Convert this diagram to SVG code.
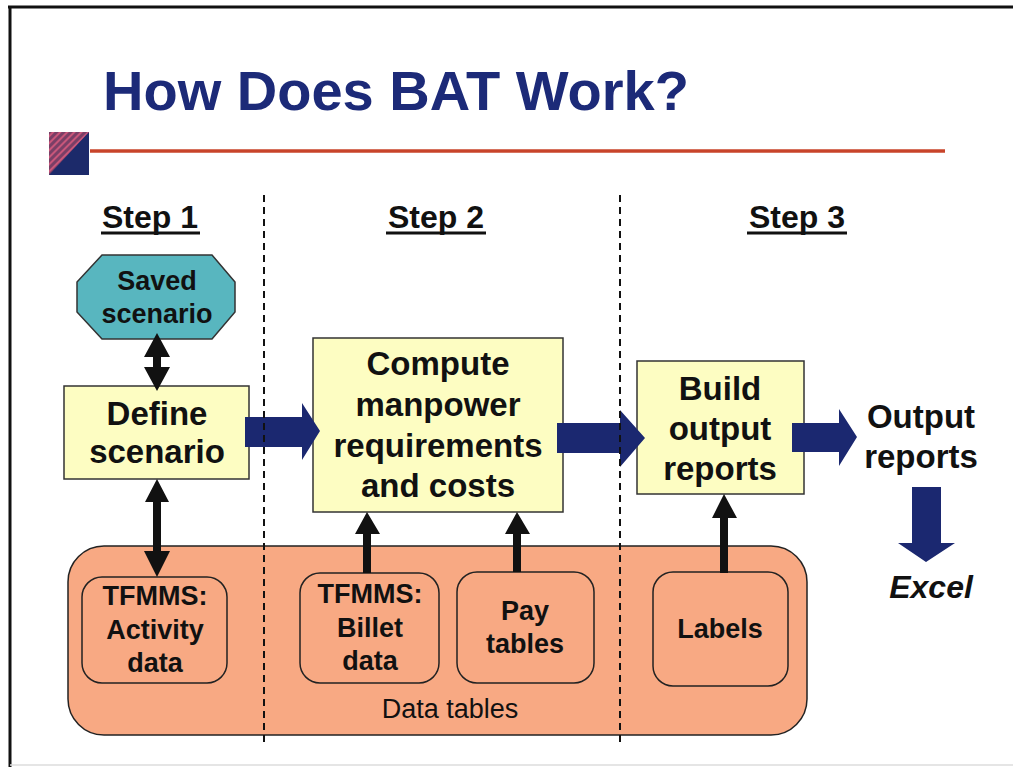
<svg xmlns="http://www.w3.org/2000/svg" width="1013" height="767" viewBox="0 0 1013 767">
<defs>
<style>
text{font-family:"Liberation Sans",Arial,sans-serif;fill:#111;text-anchor:middle}
.b{font-weight:bold}
.box{fill:#fdfdc2;stroke:#333;stroke-width:1.5}
.tbl{fill:#f8a983;stroke:#222;stroke-width:1.5}
.blue{fill:#1b2870}
.blk{fill:#111}
.dash{stroke:#111;stroke-width:2;stroke-dasharray:7 5}
.step{font-size:32px;font-weight:bold}
</style>
<pattern id="hatch" width="5" height="5" patternUnits="userSpaceOnUse" patternTransform="rotate(45)">
<rect width="5" height="5" fill="#7a3f66"/>
<rect width="2" height="5" fill="#c8567a"/>
</pattern>
</defs>
<rect width="1013" height="767" fill="#fff"/>
<!-- frame -->
<line x1="8" y1="7" x2="1013" y2="7" stroke="#111" stroke-width="3"/>
<line x1="10" y1="6" x2="10" y2="767" stroke="#111" stroke-width="3"/>
<line x1="10" y1="765" x2="1013" y2="765" stroke="#ddd" stroke-width="1.5"/>
<!-- title -->
<g id="title">
<text x="103" y="110" class="b" style="font-size:56px;fill:#1c2a78;text-anchor:start">How Does BAT Work?</text>
<rect x="49" y="132" width="40" height="43" fill="url(#hatch)"/>
<polygon points="89,132 89,175 49,175" fill="#1c2a6a"/>
<line x1="90" y1="151" x2="945" y2="151" stroke="#c8442a" stroke-width="3.5"/>
</g>
<!-- step headers -->
<g id="steps">
<text x="150" y="228" class="step">Step 1</text>
<line x1="101" y1="233" x2="200" y2="233" stroke="#111" stroke-width="3"/>
<text x="436" y="228" class="step">Step 2</text>
<line x1="386" y1="233" x2="486" y2="233" stroke="#111" stroke-width="3"/>
<text x="797" y="228" class="step">Step 3</text>
<line x1="747" y1="233" x2="847" y2="233" stroke="#111" stroke-width="3"/>
</g>
<!-- data tables container -->
<g id="data-tables">
<rect x="68" y="546" width="739" height="189" rx="36" class="tbl"/>
<text x="450" y="718" style="font-size:27px">Data tables</text>
</g>
<g id="tfmms-activity">
<rect x="82" y="577" width="145" height="106" rx="20" class="tbl"/>
<text x="155" y="605" class="b" style="font-size:27px">TFMMS:</text>
<text x="155" y="639" class="b" style="font-size:27px">Activity</text>
<text x="155" y="672" class="b" style="font-size:27px">data</text>
</g>
<g id="tfmms-billet">
<rect x="300" y="573" width="139" height="110" rx="20" class="tbl"/>
<text x="370" y="603" class="b" style="font-size:27px">TFMMS:</text>
<text x="370" y="637" class="b" style="font-size:27px">Billet</text>
<text x="370" y="670" class="b" style="font-size:27px">data</text>
</g>
<g id="pay-tables">
<rect x="457" y="572" width="137" height="111" rx="20" class="tbl"/>
<text x="525" y="620" class="b" style="font-size:27px">Pay</text>
<text x="525" y="653" class="b" style="font-size:27px">tables</text>
</g>
<g id="labels">
<rect x="653" y="572" width="135" height="114" rx="20" class="tbl"/>
<text x="720" y="638" class="b" style="font-size:27px">Labels</text>
</g>
<!-- process nodes -->
<g id="saved-scenario">
<polygon points="102,255 212,255 235,282 235,312 212,339 102,339 77,312 77,282" fill="#58b6bf" stroke="#333" stroke-width="1.5"/>
<text x="157" y="290" class="b" style="font-size:27px">Saved</text>
<text x="157" y="323" class="b" style="font-size:27px">scenario</text>
</g>
<g id="define-scenario">
<rect x="64" y="386" width="185" height="93" class="box"/>
<text x="157" y="425" class="b" style="font-size:33px">Define</text>
<text x="157" y="463" class="b" style="font-size:33px">scenario</text>
</g>
<g id="compute">
<rect x="313" y="338" width="250" height="174" class="box"/>
<text x="438" y="375" class="b" style="font-size:33px">Compute</text>
<text x="438" y="416" class="b" style="font-size:33px">manpower</text>
<text x="438" y="457" class="b" style="font-size:33px">requirements</text>
<text x="438" y="497" class="b" style="font-size:33px">and costs</text>
</g>
<g id="build-reports">
<rect x="637" y="361" width="167" height="133" class="box"/>
<text x="720" y="400" class="b" style="font-size:33px">Build</text>
<text x="720" y="440" class="b" style="font-size:33px">output</text>
<text x="720" y="480" class="b" style="font-size:33px">reports</text>
</g>
<g id="output-reports">
<text x="921" y="428" class="b" style="font-size:33px">Output</text>
<text x="921" y="468" class="b" style="font-size:33px">reports</text>
</g>
<g id="excel">
<text x="931" y="598" class="b" style="font-size:32px;font-style:italic">Excel</text>
</g>
<!-- connectors -->
<g id="connectors">
<polygon class="blue" points="245,417 302,417 302,403 320,431 302,460 302,447 245,447"/>
<polygon class="blue" points="557,423 620,423 620,410 645,438 620,467 620,453 557,453"/>
<polygon class="blue" points="792,423 839,423 839,409 857,437 839,466 839,452 792,452"/>
<polygon class="blue" points="912,487 941,487 941,543 955,543 926,562 898,543 912,543"/>
<polygon class="blk" points="157,333 170,357 161,357 161,367 170,367 157,391 144,367 153,367 153,357 144,357"/>
<polygon class="blk" points="157,479 169,502 161,502 161,551 170,551 157,577 144,551 153,551 153,502 145,502"/>
<polygon class="blk" points="367,512 380,534 371,534 371,573 363,573 363,534 355,534"/>
<polygon class="blk" points="517,512 530,534 521,534 521,572 513,572 513,534 505,534"/>
<polygon class="blk" points="724,494 737,518 728,518 728,573 720,573 720,518 712,518"/>
</g>
<!-- step dividers -->
<g id="dividers">
<line x1="264" y1="195" x2="264" y2="745" class="dash"/>
<line x1="620" y1="195" x2="620" y2="745" class="dash"/>
</g>
</svg>
